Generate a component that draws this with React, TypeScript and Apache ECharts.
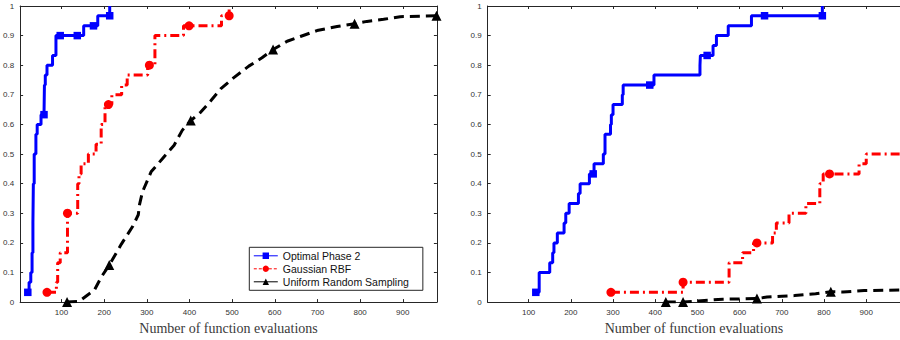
import React, { useEffect, useRef } from 'react';
import * as echarts from 'echarts';

// ---------- tick labels ----------
const X_TICKS = [100, 200, 300, 400, 500, 600, 700, 800, 900];
const X_MIN = 3;
const X_MAX = 980;

// ---------- left panel ----------
const leftOptX = [21, 24, 28, 31, 33, 34, 36, 40, 43, 52, 59, 60, 62, 66, 79, 87, 97, 137, 152, 175, 185, 213, 213];
const leftOptY = [0.033, 0.067, 0.1, 0.167, 0.267, 0.4, 0.5, 0.567, 0.6, 0.633, 0.633, 0.733, 0.767, 0.8, 0.833, 0.9, 0.9, 0.9, 0.933, 0.933, 0.967, 0.967, 1];
const leftOptMarks = [0, 10, 16, 17, 19, 21];

const leftRbfX = [66, 88, 91, 97, 114, 138, 141, 146, 163, 181, 193, 202, 210, 218, 241, 254, 302, 306, 319, 386, 399, 475, 493, 493];
const leftRbfY = [0.033, 0.067, 0.133, 0.167, 0.3, 0.4, 0.433, 0.467, 0.5, 0.533, 0.6, 0.667, 0.667, 0.7, 0.733, 0.767, 0.8, 0.8, 0.9, 0.933, 0.933, 0.967, 0.967, 1];
const leftRbfMarks = [0, 4, 12, 17, 20, 22];

const leftUniX = [113, 142, 162, 177, 193, 212, 240, 267, 280, 283, 290, 310, 337, 364, 383, 403, 426, 450, 473, 504, 539, 570, 596, 629, 660, 699, 746, 787, 816, 855, 894, 979];
const leftUniY = [0, 0.003, 0.025, 0.04, 0.084, 0.125, 0.195, 0.256, 0.295, 0.33, 0.373, 0.44, 0.485, 0.53, 0.58, 0.613, 0.641, 0.68, 0.72, 0.758, 0.797, 0.825, 0.853, 0.881, 0.897, 0.917, 0.931, 0.94, 0.948, 0.955, 0.964, 0.967];
const leftUniMarks = [0, 5, 15, 22, 27, 31];

// ---------- right panel ----------
const rightOptX = [117, 125, 150, 157, 160, 168, 184, 188, 196, 218, 222, 244, 253, 255, 277, 281, 294, 296, 300, 322, 324, 387, 397, 506, 507, 523, 537, 545, 573, 628, 659, 796, 796];
const rightOptY = [0.033, 0.1, 0.133, 0.167, 0.2, 0.233, 0.267, 0.3, 0.333, 0.367, 0.4, 0.433, 0.433, 0.467, 0.5, 0.567, 0.6, 0.633, 0.667, 0.7, 0.733, 0.733, 0.767, 0.8, 0.833, 0.833, 0.867, 0.9, 0.933, 0.967, 0.967, 0.967, 1];
const rightOptMarks = [0, 12, 21, 25, 30, 31];

const rightRbfX = [295, 466, 575, 607, 633, 641, 678, 687, 717, 757, 790, 798, 813, 883, 900, 980];
const rightRbfY = [0.033, 0.067, 0.133, 0.167, 0.2, 0.2, 0.233, 0.267, 0.3, 0.333, 0.4, 0.433, 0.433, 0.467, 0.5, 0.5];
const rightRbfMarks = [0, 1, 5, 12];

const rightUniX = [425, 466, 500, 560, 610, 641, 665, 700, 730, 780, 816, 845, 895, 980];
const rightUniY = [0, 0, 0.004, 0.01, 0.011, 0.012, 0.017, 0.02, 0.022, 0.028, 0.035, 0.034, 0.039, 0.041];
const rightUniMarks = [0, 1, 5, 10];

const NAMES = ['Optimal Phase 2', 'Gaussian RBF', 'Uniform Random Sampling'];

const AXIS = '#262626';
const SANS = 'Liberation Sans, Arial, sans-serif';
const SERIF = 'Liberation Serif, Times New Roman, serif';

function buildData(xs: number[], ys: number[], marks: number[]) {
  return xs.map((x, i) =>
    marks.indexOf(i) >= 0 ? { value: [x, ys[i]] } : { value: [x, ys[i]], symbol: 'none' }
  );
}

function xAxis(gridIndex: number, position: 'bottom' | 'top', labels: boolean) {
  return {
    type: 'value',
    gridIndex,
    position,
    min: X_MIN,
    max: X_MAX,
    name: labels ? 'Number of function evaluations' : '',
    nameLocation: 'middle',
    nameGap: 15,
    nameTextStyle: { fontFamily: SERIF, fontSize: 14, color: '#3a3a3a' },
    axisLine: { show: true, onZero: false, lineStyle: { color: AXIS, width: 1 } },
    axisTick: { show: true, inside: true, length: 3, customValues: X_TICKS, lineStyle: { color: AXIS } },
    axisLabel: { show: labels, customValues: X_TICKS, fontSize: 8, color: '#333', margin: 6, fontFamily: SANS },
    splitLine: { show: false },
  };
}

function yAxis(gridIndex: number, position: 'left' | 'right', labels: boolean) {
  return {
    type: 'value',
    gridIndex,
    position,
    min: 0,
    max: 1,
    interval: 0.1,
    axisLine: { show: true, onZero: false, lineStyle: { color: AXIS, width: 1 } },
    axisTick: { show: true, inside: true, length: 3, lineStyle: { color: AXIS } },
    axisLabel: { show: labels, fontSize: 8, color: '#333', margin: 6, fontFamily: SANS },
    splitLine: { show: false },
  };
}

function series(name: string, kind: number, xi: number, yi: number, xs: number[], ys: number[], marks: number[], step: boolean) {
  const styles = [
    { color: '#0000ff', symbol: 'rect', size: 7.5, dash: 'solid' as any },
    { color: '#ff0000', symbol: 'circle', size: 9, dash: [9, 4, 2, 4] as any },
    { color: '#000000', symbol: 'triangle', size: 10, dash: [10, 6] as any },
  ];
  const s = styles[kind];
  return {
    name,
    type: 'line',
    xAxisIndex: xi,
    yAxisIndex: yi,
    step: step ? 'end' : false,
    data: buildData(xs, ys, marks),
    symbol: s.symbol,
    symbolSize: s.size,
    showSymbol: true,
    showAllSymbol: true,
    clip: true,
    lineStyle: { color: s.color, width: 3, type: s.dash },
    itemStyle: { color: s.color },
    emphasis: { disabled: true },
    z: 2 + kind,
  };
}

export default function App() {
  const ref = useRef<HTMLDivElement>(null);
  useEffect(() => {
    if (!ref.current) return;
    const chart = echarts.init(ref.current, undefined, { renderer: 'svg' });
    chart.setOption({
      animation: false,
      backgroundColor: '#ffffff',
      grid: [
        { left: 18.8, top: 6, width: 418.1, height: 299 },
        { left: 487.7, top: 6, width: 412.7, height: 299 },
      ],
      xAxis: [xAxis(0, 'bottom', true), xAxis(0, 'top', false), xAxis(1, 'bottom', true), xAxis(1, 'top', false)],
      yAxis: [yAxis(0, 'left', true), yAxis(0, 'right', false), yAxis(1, 'left', true)],
      legend: {
        data: [
          { name: NAMES[0], lineStyle: { width: 1, type: 'solid' } },
          { name: NAMES[1], lineStyle: { width: 1, type: [3, 2] } },
          { name: NAMES[2], lineStyle: { width: 1, type: 'solid' } },
        ],
        orient: 'vertical',
        left: 249.3,
        top: 247.3,
        padding: [3, 14, 3, 4],
        itemGap: 2,
        itemWidth: 24,
        itemHeight: 8,
        backgroundColor: '#ffffff',
        borderColor: AXIS,
        borderWidth: 1,
        borderRadius: 0,
        selectedMode: false,
        textStyle: { fontSize: 10.5, color: '#111', fontFamily: SANS },
      },
      series: [
        series(NAMES[0], 0, 0, 0, leftOptX, leftOptY, leftOptMarks, true),
        series(NAMES[1], 1, 0, 0, leftRbfX, leftRbfY, leftRbfMarks, true),
        series(NAMES[2], 2, 0, 0, leftUniX, leftUniY, leftUniMarks, false),
        series(NAMES[0], 0, 2, 2, rightOptX, rightOptY, rightOptMarks, true),
        series(NAMES[1], 1, 2, 2, rightRbfX, rightRbfY, rightRbfMarks, true),
        series(NAMES[2], 2, 2, 2, rightUniX, rightUniY, rightUniMarks, false),
      ],
    });
    return () => chart.dispose();
  }, []);
  return <div ref={ref} style={{ position: 'absolute', left: 0, top: 0, width: 900, height: 340 }} />;
}
